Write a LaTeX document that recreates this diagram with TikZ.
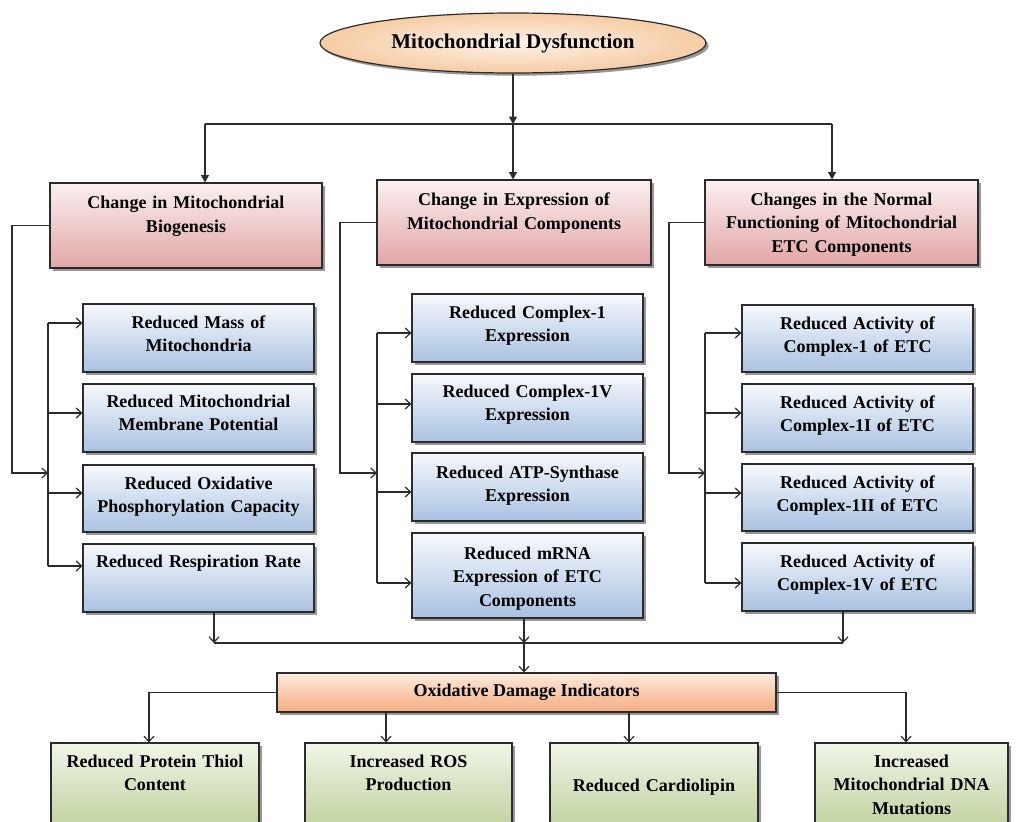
\documentclass[tikz,border=0pt]{standalone}
\usepackage{fontspec}
\setmainfont{Liberation Serif}
\usetikzlibrary{arrows.meta,shadows,shapes.geometric,calc}

\definecolor{edge}{HTML}{2B2B2B}
\definecolor{pinkTop}{HTML}{FBF0F0}
\definecolor{pinkBot}{HTML}{E2A5A6}
\definecolor{blueTop}{HTML}{F7F9FD}
\definecolor{blueBot}{HTML}{A9C1E2}
\definecolor{peachTop}{HTML}{FDEBDD}
\definecolor{peachBot}{HTML}{F5AB80}
\definecolor{greenTop}{HTML}{F1F5E8}
\definecolor{greenBot}{HTML}{B9CD96}
\definecolor{ovalIn}{HTML}{FDF3EA}
\definecolor{ovalOut}{HTML}{F6CCA4}

\tikzset{
  px/.style 2 args={minimum width=#1*0.75pt, minimum height=#2*0.75pt},
  softshadow/.style={drop shadow={shadow xshift=2pt, shadow yshift=-2pt, fill=black!80, opacity=0.5}},
  card/.style={rectangle, draw=edge, line width=0.9pt, inner sep=0pt, softshadow},
  head/.style={card, top color=pinkTop, bottom color=pinkBot},
  sub/.style={card, top color=blueTop, bottom color=blueBot},
  hub/.style={card, top color=peachTop, bottom color=peachBot},
  leaf/.style={card, top color=greenTop, bottom color=greenBot},
  bodyfont/.style={font=\bfseries\fontsize{13.5}{17.6}\selectfont},
  txt/.style={bodyfont, anchor=base, inner sep=0pt, align=center, text width=#1*0.75pt},
  wire/.style={draw=edge, line width=0.9pt},
  solidtip/.style={wire, -{Triangle[length=5.5pt,width=6pt]}},
  opentip/.style={wire, -{Straight Barb[length=4pt,width=7.5pt]}},
}

\begin{document}
\begin{tikzpicture}[x=0.75pt, y=-0.75pt]
\useasboundingbox (0,0) rectangle (1016,821);
\clip (0,0) rectangle (1016,821);
\fill[white] (0,0) rectangle (1016,821);

% ---------- title ----------
\node[ellipse, draw=edge, line width=0.9pt, inner sep=0pt, px={386}{60},
      inner color=ovalIn, outer color=ovalOut, softshadow,
      font=\bfseries\fontsize{15.75}{19}\selectfont] (top) at (513,43) {Mitochondrial Dysfunction};

% ---------- headers ----------
\node[head, px={272}{85}] (h1) at (186,225.5) {};
\node[head, px={274}{85}] (h2) at (514,222.5) {};
\node[head, px={273}{85}] (h3) at (841.5,222.5) {};
\node[txt=262] (h1t) at ($(h1.north)+(0,26.5)$) {Change in Mitochondrial\\Biogenesis};
\node[txt=264] (h2t) at ($(h2.north)+(0,26.5)$) {Change in Expression of\\Mitochondrial Components};
\node[txt=263] (h3t) at ($(h3.north)+(0,26)$) {Changes in the Normal\\Functioning of Mitochondrial\\ETC Components};

% ---------- column 1 ----------
\node[sub, px={231}{68}] (b11) at (198.5,338) {};
\node[sub, px={231}{68}] (b12) at (198.5,418) {};
\node[sub, px={231}{67}] (b13) at (198.5,498.5) {};
\node[sub, px={231}{68}] (b14) at (198.5,578) {};
\node[txt=225] (b11t) at ($(b11.north)+(0,25)$) {Reduced Mass of\\Mitochondria};
\node[txt=225] (b12t) at ($(b12.north)+(0,24)$) {Reduced Mitochondrial\\Membrane Potential};
\node[txt=225] (b13t) at ($(b13.north)+(0,25)$) {Reduced Oxidative\\Phosphorylation Capacity};
\node[txt=225] (b14t) at ($(b14.north)+(0,24)$) {Reduced Respiration Rate};

% ---------- column 2 ----------
\node[sub, px={231}{68}] (b21) at (527.5,328) {};
\node[sub, px={231}{68}] (b22) at (527.5,408) {};
\node[sub, px={231}{68}] (b23) at (527.5,487) {};
\node[sub, px={231}{85}] (b24) at (527.5,575.5) {};
\node[txt=225] (b21t) at ($(b21.north)+(0,25)$) {Reduced Complex-1\\Expression};
\node[txt=225] (b22t) at ($(b22.north)+(0,24)$) {Reduced Complex-1V\\Expression};
\node[txt=225] (b23t) at ($(b23.north)+(0,26)$) {Reduced ATP-Synthase\\Expression};
\node[txt=225] (b24t) at ($(b24.north)+(0,27)$) {Reduced mRNA\\Expression of ETC\\Components};

% ---------- column 3 ----------
\node[sub, px={231}{67}] (b31) at (857.5,338.5) {};
\node[sub, px={231}{68}] (b32) at (857.5,418) {};
\node[sub, px={231}{67}] (b33) at (857.5,497.5) {};
\node[sub, px={231}{68}] (b34) at (857.5,577) {};
\node[txt=225] (b31t) at ($(b31.north)+(0,25)$) {Reduced Activity of\\Complex-1 of ETC};
\node[txt=225] (b32t) at ($(b32.north)+(0,25)$) {Reduced Activity of\\Complex-1I of ETC};
\node[txt=225] (b33t) at ($(b33.north)+(0,25)$) {Reduced Activity of\\Complex-1II of ETC};
\node[txt=225] (b34t) at ($(b34.north)+(0,25)$) {Reduced Activity of\\Complex-1V of ETC};

% ---------- damage indicators ----------
\node[hub, px={499}{39}, bodyfont] (ox) at (526.5,692.5) {Oxidative Damage Indicators};
\node[leaf, px={208}{95}] (g1) at (155,790.5) {};
\node[leaf, px={207}{95}] (g2) at (408.5,790.5) {};
\node[leaf, px={208}{95}] (g3) at (654,790.5) {};
\node[leaf, px={193}{95}] (g4) at (911.5,790.5) {};
\node[txt=200] (g1t) at ($(g1.north)+(0,25)$) {Reduced Protein Thiol\\Content};
\node[txt=200] (g2t) at ($(g2.north)+(0,25)$) {Increased ROS\\Production};
\node[txt=200] (g3t) at ($(g3.north)+(0,49)$) {Reduced Cardiolipin};
\node[txt=185] (g4t) at ($(g4.north)+(0,25)$) {Increased\\Mitochondrial DNA\\Mutations};

% ---------- top distribution ----------
\coordinate (j0) at (513,124);
\coordinate (jl) at (205,124);
\coordinate (jr) at (832,124);
\draw[solidtip] (top.south) -- (j0);
\draw[wire] (jl) -- (jr);
\draw[solidtip] (jl) -- (jl |- h1.north);
\draw[solidtip] (j0) -- (j0 |- h2.north);
\draw[solidtip] (jr) -- (jr |- h3.north);

% ---------- column 1 feed ----------
\coordinate (e1) at (12,473);
\coordinate (m1) at (48,473);
\coordinate (k11) at (48,323);
\coordinate (k12) at (48,413);
\coordinate (k13) at (48,493);
\coordinate (k14) at (48,566);
\draw[opentip] (h1.west) -| (e1) -- (m1);
\draw[wire] (k11) -- (k14);
\draw[opentip] (k11) -- (k11 -| b11.west);
\draw[opentip] (k12) -- (k12 -| b12.west);
\draw[opentip] (k13) -- (k13 -| b13.west);
\draw[opentip] (k14) -- (k14 -| b14.west);

% ---------- column 2 feed ----------
\coordinate (e2) at (340,473);
\coordinate (m2) at (377,473);
\coordinate (k21) at (377,333);
\coordinate (k22) at (377,404);
\coordinate (k23) at (377,492);
\coordinate (k24) at (377,583);
\draw[opentip] (h2.west) -| (e2) -- (m2);
\draw[wire] (k21) -- (k24);
\draw[opentip] (k21) -- (k21 -| b21.west);
\draw[opentip] (k22) -- (k22 -| b22.west);
\draw[opentip] (k23) -- (k23 -| b23.west);
\draw[opentip] (k24) -- (k24 -| b24.west);

% ---------- column 3 feed ----------
\coordinate (e3) at (669,473);
\coordinate (m3) at (705,473);
\coordinate (k31) at (705,333);
\coordinate (k32) at (705,413);
\coordinate (k33) at (705,493);
\coordinate (k34) at (705,583);
\draw[opentip] (h3.west) -| (e3) -- (m3);
\draw[wire] (k31) -- (k34);
\draw[opentip] (k31) -- (k31 -| b31.west);
\draw[opentip] (k32) -- (k32 -| b32.west);
\draw[opentip] (k33) -- (k33 -| b33.west);
\draw[opentip] (k34) -- (k34 -| b34.west);

% ---------- merge into indicators ----------
\coordinate (s1) at (214,643);
\coordinate (s2) at (524,643);
\coordinate (s3) at (843,643);
\draw[opentip] (s1 |- b14.south) -- (s1);
\draw[opentip] (s2 |- b24.south) -- (s2);
\draw[opentip] (s3 |- b34.south) -- (s3);
\draw[wire] (s1) -- (s3);
\draw[opentip] (s2) -- (s2 |- ox.north);

% ---------- indicator branches ----------
\coordinate (f1) at (149,720);
\coordinate (f2) at (386,720);
\coordinate (f3) at (629,720);
\coordinate (f4) at (906,720);
\draw[opentip] (ox.west) -| (f1 |- g1.north);
\draw[opentip] (f2 |- ox.south) -- (f2 |- g2.north);
\draw[opentip] (f3 |- ox.south) -- (f3 |- g3.north);
\draw[opentip] (ox.east) -| (f4 |- g4.north);
\end{tikzpicture}
\end{document}
